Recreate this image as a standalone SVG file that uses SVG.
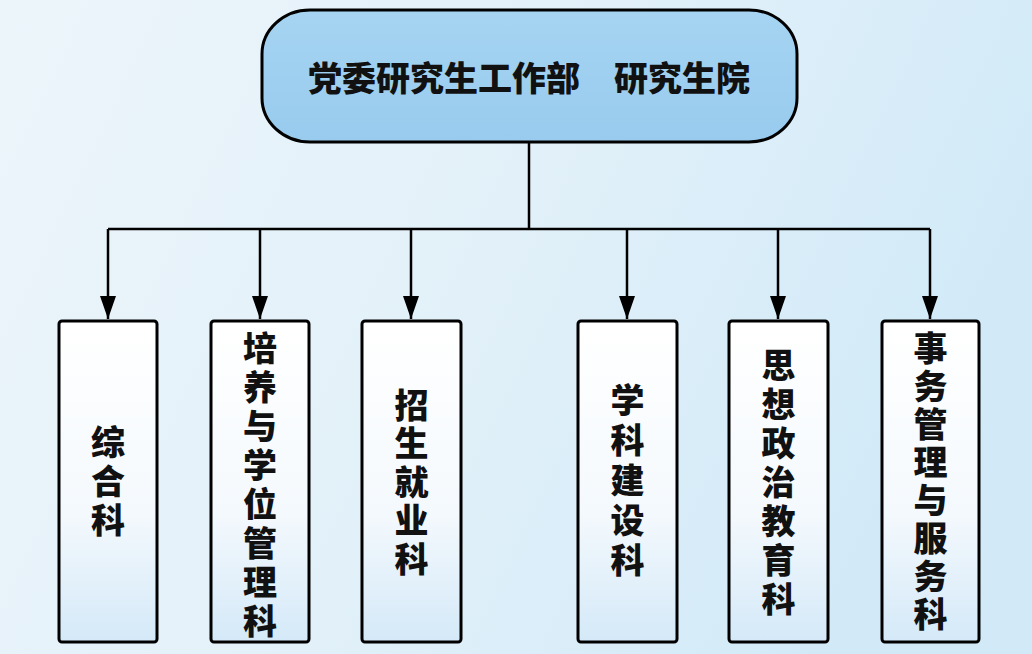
<svg xmlns="http://www.w3.org/2000/svg" width="1032" height="654" viewBox="0 0 1032 654">
  <defs>
    <linearGradient id="bg" x1="0" y1="0" x2="1" y2="0.3">
      <stop offset="0" stop-color="#ecf5fa"/>
      <stop offset="0.5" stop-color="#e3f1f9"/>
      <stop offset="1" stop-color="#d2eaf8"/>
    </linearGradient>
    <linearGradient id="topfill" x1="0" y1="0" x2="0" y2="1">
      <stop offset="0" stop-color="#a6d4f2"/>
      <stop offset="1" stop-color="#98cbee"/>
    </linearGradient>
    <linearGradient id="boxfill" x1="0" y1="0" x2="0" y2="1">
      <stop offset="0" stop-color="#ffffff"/>
      <stop offset="0.6" stop-color="#f4f9fd"/>
      <stop offset="1" stop-color="#d4e9f8"/>
    </linearGradient>
    <marker id="arrow" viewBox="0 0 23 16" refX="23" refY="8" markerWidth="23" markerHeight="16" markerUnits="userSpaceOnUse" orient="auto">
      <path d="M0,0 L23,8 L0,16 Z" fill="#000"/>
    </marker>
    <style>
      .box { fill: url(#boxfill); stroke: #000; stroke-width: 3; }
      .lbl { font-family: "Noto Sans CJK SC", "Noto Sans", sans-serif; font-weight: 900; font-size: 34px; fill: #111; text-anchor: middle; }
      .v { writing-mode: vertical-rl; }
      .conn { fill: none; stroke: #000; stroke-width: 2.5; }
    </style>
  </defs>
  <rect x="0" y="0" width="1032" height="654" fill="url(#bg)"/>

  <g id="connectors">
    <path class="conn" d="M529,142 V229 M108,229 H930"/>
    <path class="conn" d="M108,229 V319" marker-end="url(#arrow)"/>
    <path class="conn" d="M260,229 V319" marker-end="url(#arrow)"/>
    <path class="conn" d="M411,229 V319" marker-end="url(#arrow)"/>
    <path class="conn" d="M627,229 V319" marker-end="url(#arrow)"/>
    <path class="conn" d="M778,229 V319" marker-end="url(#arrow)"/>
    <path class="conn" d="M930,229 V319" marker-end="url(#arrow)"/>
  </g>

  <g id="top">
    <rect x="262" y="10" width="535" height="132" rx="48" ry="44" fill="url(#topfill)" stroke="#000" stroke-width="3"/>
    <text class="lbl" x="529" y="91">党委研究生工作部　研究生院</text>
  </g>

  <g id="n1">
    <rect class="box" x="59" y="321" width="98" height="321" rx="3"/>
    <text class="lbl v" x="108" y="484" letter-spacing="5">综合科</text>
  </g>
  <g id="n2">
    <rect class="box" x="211" y="321" width="98" height="321" rx="3"/>
    <text class="lbl v" x="260" y="487" letter-spacing="5">培养与学位管理科</text>
  </g>
  <g id="n3">
    <rect class="box" x="362" y="321" width="99" height="321" rx="3"/>
    <text class="lbl v" x="411.5" y="484" letter-spacing="4.5">招生就业科</text>
  </g>
  <g id="n4">
    <rect class="box" x="578" y="321" width="99" height="321" rx="3"/>
    <text class="lbl v" x="627.5" y="483" letter-spacing="6">学科建设科</text>
  </g>
  <g id="n5">
    <rect class="box" x="729" y="321" width="99" height="321" rx="3"/>
    <text class="lbl v" x="778.5" y="485" letter-spacing="5">思想政治教育科</text>
  </g>
  <g id="n6">
    <rect class="box" x="882" y="321" width="97" height="321" rx="3"/>
    <text class="lbl v" x="930.5" y="483" letter-spacing="4">事务管理与服务科</text>
  </g>
</svg>
